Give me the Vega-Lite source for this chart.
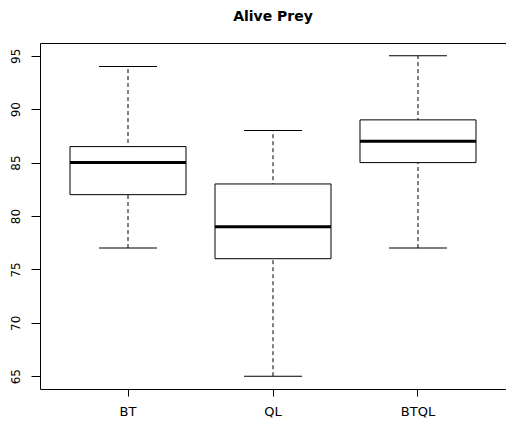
{
  "$schema": "https://vega.github.io/schema/vega-lite/v6.json",
  "width": 466,
  "height": 346,
  "autosize": {"type": "none"},
  "padding": {"left": 40, "top": 43, "right": 0, "bottom": 34},
  "background": "white",
  "title": {"text": "Alive Prey", "font": "DejaVu Sans", "fontSize": 14, "fontWeight": "bold", "anchor": "middle", "frame": "group", "baseline": "bottom", "offset": 5, "color": "black"},
  "data": {"values": [
    {"group": "BT", "lower": 77, "q1": 82, "median": 85, "q3": 86.5, "upper": 94},
    {"group": "QL", "lower": 65, "q1": 76, "median": 79, "q3": 83, "upper": 88},
    {"group": "BTQL", "lower": 77, "q1": 85, "median": 87, "q3": 89, "upper": 95}
  ]},
  "config": {
    "view": {"stroke": null},
    "axis": {"grid": false, "domainColor": "black", "tickColor": "black", "labelColor": "black", "labelFont": "DejaVu Sans", "labelFontSize": 12, "title": null, "domainWidth": 1, "tickWidth": 1}
  },
  "resolve": {"axis": {"x": "independent"}},
  "layer": [
    {
      "mark": {"type": "rule", "strokeDash": [4, 3], "color": "black", "strokeWidth": 1},
      "encoding": {
        "x": {"field": "group", "type": "nominal", "sort": ["BT", "QL", "BTQL"], "scale": {"paddingInner": 0, "paddingOuter": 0.107}, "axis": {"orient": "bottom", "labelAngle": 0, "tickSize": 7, "labelPadding": 9, "labelBaseline": "top", "labelFontSize": 13, "title": null}},
        "y": {"field": "lower", "type": "quantitative", "scale": {"domain": [63.8, 96.2], "nice": false, "zero": false}, "axis": {"orient": "left", "values": [65, 70, 75, 80, 85, 90, 95], "tickSize": 9, "labelAngle": 270, "labelAlign": "center", "labelBaseline": "bottom", "labelPadding": 9, "title": null}},
        "y2": {"field": "upper"}
      }
    },
    {
      "mark": {"type": "bar", "size": 116, "fill": "white", "stroke": "black", "strokeWidth": 1},
      "encoding": {
        "x": {"field": "group", "type": "nominal", "sort": ["BT", "QL", "BTQL"], "axis": null},
        "y": {"field": "q1", "type": "quantitative"},
        "y2": {"field": "q3"}
      }
    },
    {
      "mark": {"type": "tick", "size": 116, "thickness": 3, "color": "black", "opacity": 1},
      "encoding": {
        "x": {"field": "group", "type": "nominal", "sort": ["BT", "QL", "BTQL"], "axis": null},
        "y": {"field": "median", "type": "quantitative"}
      }
    },
    {
      "mark": {"type": "tick", "size": 58, "thickness": 1, "color": "black", "opacity": 1},
      "encoding": {
        "x": {"field": "group", "type": "nominal", "sort": ["BT", "QL", "BTQL"], "axis": null},
        "y": {"field": "upper", "type": "quantitative"}
      }
    },
    {
      "mark": {"type": "tick", "size": 58, "thickness": 1, "color": "black", "opacity": 1},
      "encoding": {
        "x": {"field": "group", "type": "nominal", "sort": ["BT", "QL", "BTQL"], "axis": {"orient": "top", "labels": false, "ticks": false, "domain": true, "title": null}},
        "y": {"field": "lower", "type": "quantitative"}
      }
    }
  ]
}
